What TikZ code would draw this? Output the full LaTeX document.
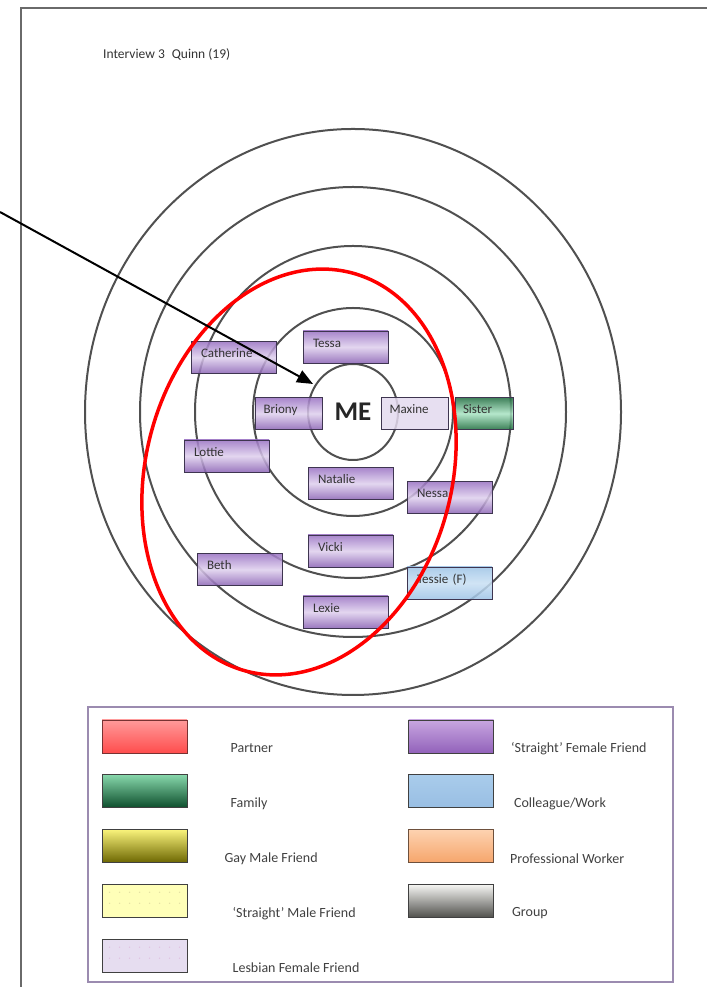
\documentclass[tikz,border=0pt]{standalone}
\usepackage{fontspec}
\setmainfont{Carlito}
\usetikzlibrary{arrows.meta, positioning}
\usepackage{xcolor}

\definecolor{ringgray}{HTML}{505050}
\definecolor{boxedge}{HTML}{3E3550}
\definecolor{pageedge}{HTML}{6A6A6A}
\definecolor{keyedge}{HTML}{9B8BB0}
\definecolor{txtdark}{HTML}{333333}
\definecolor{purptop}{RGB}{152,112,194}
\definecolor{purpmid}{RGB}{222,207,237}
\definecolor{purpbot}{RGB}{138,98,180}

\begin{document}
\begin{tikzpicture}[
    x=1pt, y=1pt,
    every node/.style={font=\fontsize{13}{15}\selectfont, text=txtdark},
    ring/.style     ={draw=ringgray, line width=2pt},
    redring/.style  ={draw=red, line width=3.5pt},
    pointer/.style  ={-{Triangle[length=16pt, width=13pt]}, line width=2pt, black},
    person/.style   ={rectangle, draw=boxedge, line width=0.9pt, minimum width=85pt,
                      minimum height=32pt, text width=65pt, align=left, inner sep=0pt,
                      text height=9pt, text depth=8pt, fill opacity=0.85, text opacity=1},
    sfemale/.style  ={person, top color=purptop, bottom color=purpbot, middle color=purpmid},
    lfemale/.style  ={person, fill={rgb,255:red,227;green,217;blue,238}},
    kin/.style      ={person, top color={rgb,255:red,30;green,107;blue,62},
                      bottom color={rgb,255:red,26;green,106;blue,58},
                      middle color={rgb,255:red,168;green,227;blue,194}},
    work/.style     ={person, top color={rgb,255:red,157;green,195;blue,230},
                      bottom color={rgb,255:red,157;green,195;blue,230},
                      middle color={rgb,255:red,200;green,223;blue,243}},
    swatch/.style   ={rectangle, draw=black!75, line width=0.9pt, minimum width=85pt,
                      minimum height=33pt, inner sep=0pt},
    keytext/.style  ={anchor=west, inner sep=0pt, font=\fontsize{14}{16}\selectfont, text=black!75},
]

\useasboundingbox (0,0) rectangle (707,987);

% ── Page edge and heading ─────────────────────────────────────
\draw[pageedge, line width=1.5pt] (21,0) -- (21,979) -- (707,979);
\node[anchor=west, inner sep=0pt, font=\fontsize{13.5}{15}\selectfont] (head) at (103,932)
    {Interview 3\hspace{7pt}Quinn (19)};

% ── Rings round ME ───────────────────────────────────────────
\coordinate (ctr) at (353,575);
\foreach \rx/\ry in {268/283, 213/225, 158/166, 100/104, 45/48}
    \draw[ring] (ctr) ellipse [x radius=\rx, y radius=\ry];

% ── People ───────────────────────────────────────────────────
\node[sfemale]                                         (tessa)  at (345.5,640)   {Tessa};
\node[sfemale]                                         (cath)   at (233.5,629.5) {Catherine};
\node[sfemale, minimum width=67pt, text width=50pt]    (briony) at (288.5,573.5) {Briony};
\node[lfemale, minimum width=67pt, text width=50pt]    (maxine) at (414.5,573.5) {Maxine};
\node[kin,     minimum width=58pt, text width=42pt]    (sister) at (484,573.5)   {Sister};
\node[sfemale]                                         (lottie) at (226.5,531)   {Lottie};
\node[sfemale]                                         (natalie)at (350.5,503.5) {Natalie};
\node[sfemale]                                         (nessa)  at (449.5,489.5) {Nessa};
\node[sfemale]                                         (vicki)  at (350.5,436)   {Vicki};
\node[sfemale]                                         (beth)   at (239.5,417.5) {Beth};
\node[work]                                            (tessie) at (449.5,404)   {Tessie (F)};
\node[sfemale]                                         (lexie)  at (345.5,375)   {Lexie};

\node[font=\fontsize{27}{29}\bfseries, text=black!85] (me) at (ctr) {ME};

% ── Red ring and pointer ─────────────────────────────────────
\draw[redring, rotate around={-15:(299,515)}] (299,515) ellipse [x radius=153, y radius=206];
\coordinate (tail) at (0,775);
\coordinate (aim)  at (313,603);
\draw[pointer] (tail) -- (aim);

% ── Key ──────────────────────────────────────────────────────
\draw[keyedge, line width=1.2pt] (88,5) rectangle (673,280);

\node[swatch, top color={rgb,255:red,255;green,154;blue,154}, bottom color={rgb,255:red,255;green,77;blue,77},
      draw={rgb,255:red,120;green,50;blue,50}]                          (kpartner) at (144.5,250.5) {};
\node[swatch, top color={rgb,255:red,134;green,214;blue,170}, bottom color={rgb,255:red,12;green,77;blue,43},
      below=21pt of kpartner]                                             (kfamily)  {};
\node[swatch, top color={rgb,255:red,248;green,242;blue,122}, bottom color={rgb,255:red,107;green,101;blue,0},
      below=21pt of kfamily]                                              (kgay)     {};
\node[swatch, fill={rgb,255:red,255;green,255;blue,184}, below=21pt of kgay]  (kstraightm) {};
\node[swatch, fill={rgb,255:red,230;green,221;blue,240}, below=21pt of kstraightm] (klesbian) {};

% faint dots in the two plain swatches
\foreach \dx in {8,18,...,78}
  \foreach \dy in {8,19}{
    \fill[yellow!70!black!40] ([xshift=\dx pt, yshift=-\dy pt]kstraightm.north west) circle (0.7pt);
    \fill[violet!25]          ([xshift=\dx pt, yshift=-\dy pt]klesbian.north west) circle (0.7pt);
  }

\node[swatch, top color={rgb,255:red,200;green,166;blue,225}, bottom color={rgb,255:red,146;green,98;blue,186}]
      (kstraightf) at (451,250.5) {};
\node[swatch, top color={rgb,255:red,169;green,204;blue,235}, bottom color={rgb,255:red,152;green,190;blue,227},
      below=21pt of kstraightf]                                           (kwork)    {};
\node[swatch, top color={rgb,255:red,253;green,210;blue,176}, bottom color={rgb,255:red,246;green,165;blue,107},
      draw={rgb,255:red,110;green,80;blue,60}, below=21pt of kwork]       (kprof)    {};
\node[swatch, top color={rgb,255:red,245;green,245;blue,242}, bottom color={rgb,255:red,78;green,78;blue,74},
      below=21pt of kprof]                                                (kgroup)   {};

\node[keytext] (tpartner)   at ([xshift=43pt, yshift=-12pt]kpartner.east)   {Partner};
\node[keytext] (tfamily)    at ([xshift=43pt, yshift=-12pt]kfamily.east)    {Family};
\node[keytext] (tgay)       at ([xshift=37pt, yshift=-12pt]kgay.east)       {Gay Male Friend};
\node[keytext] (tstraightm) at ([xshift=45pt, yshift=-12pt]kstraightm.east) {‘Straight’ Male Friend};
\node[keytext] (tlesbian)   at ([xshift=45pt, yshift=-12pt]klesbian.east)   {Lesbian Female Friend};
\node[keytext] (tstraightf) at ([xshift=17pt, yshift=-12pt]kstraightf.east) {‘Straight’ Female Friend};
\node[keytext] (twork)      at ([xshift=20pt, yshift=-12pt]kwork.east)      {Colleague/Work};
\node[keytext] (tprof)      at ([xshift=16pt, yshift=-12pt]kprof.east)      {Professional Worker};
\node[keytext] (tgroup)     at ([xshift=18pt, yshift=-12pt]kgroup.east)     {Group};

\end{tikzpicture}
\end{document}
